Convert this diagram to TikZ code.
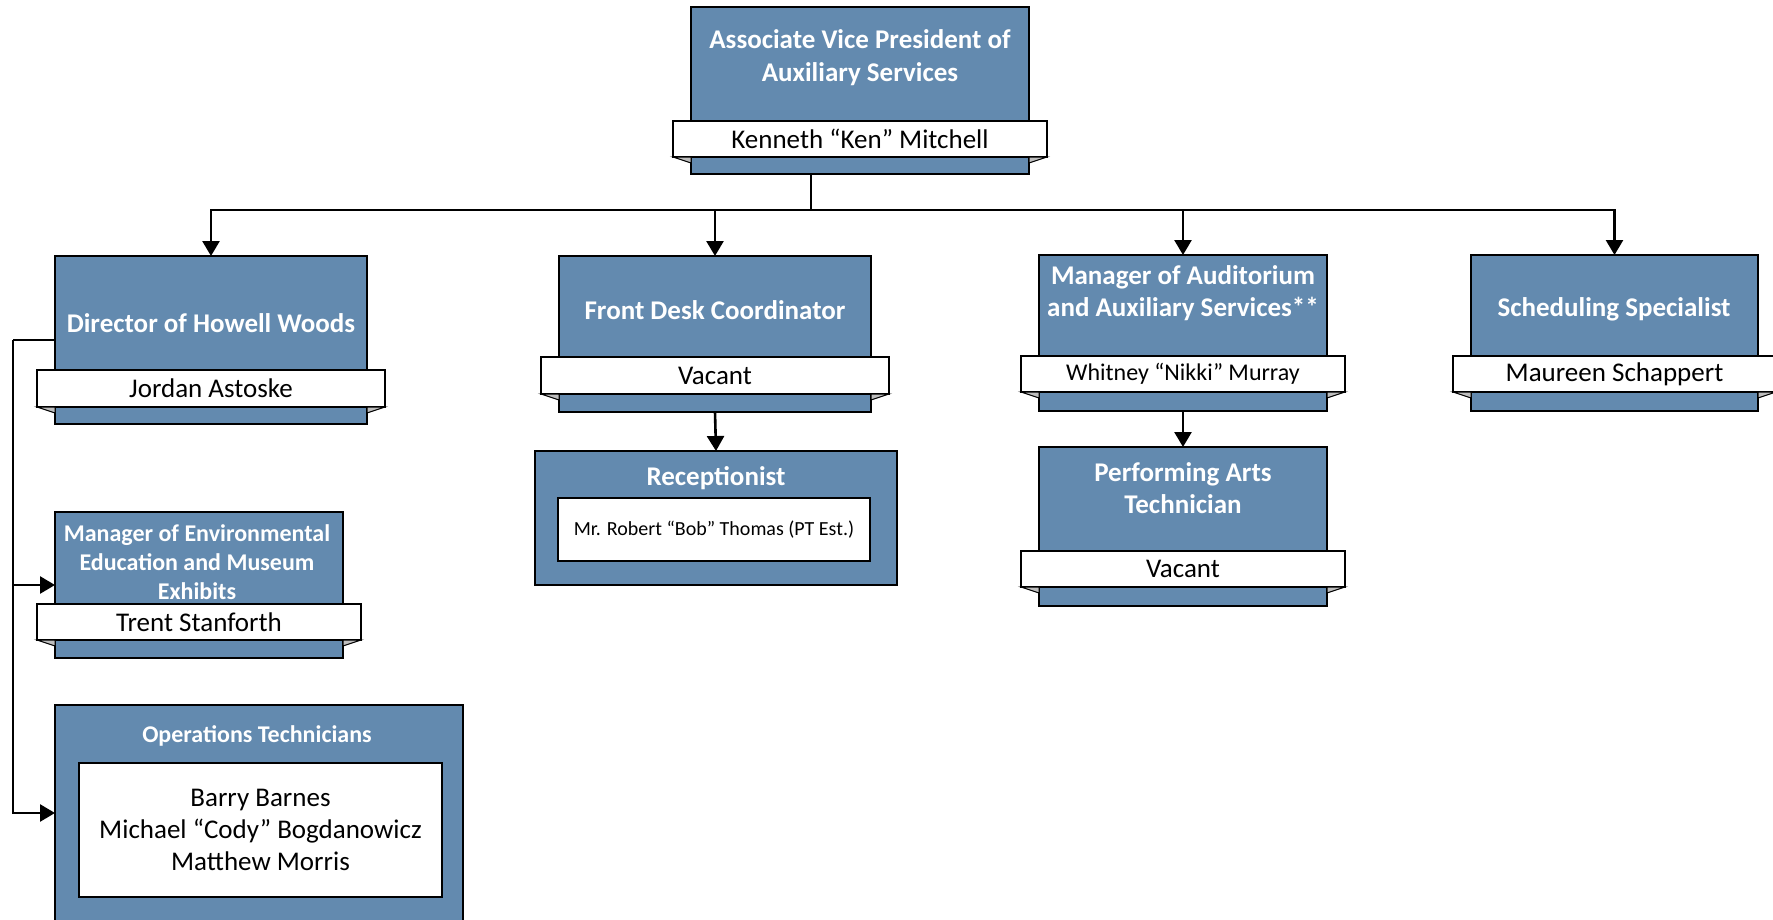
\documentclass[tikz,border=0pt]{standalone}
\usepackage{fontspec}
\setmainfont{Carlito}
\usetikzlibrary{arrows.meta}
\definecolor{boxblue}{RGB}{99,138,175}
\definecolor{foldgray}{RGB}{190,190,190}
\newcommand\fsz[2]{\fontsize{#1}{#2}\selectfont}
\newcommand\drawfolds[2]{%
  \draw[fold] (#1.south west) -- (#1.south west -| #2.west) -- ([yshift=-6pt]#1.south west -| #2.west) -- cycle;
  \draw[fold] (#1.south east) -- (#1.south east -| #2.east) -- ([yshift=-6pt]#1.south east -| #2.east) -- cycle;}
\tikzset{
  posbox/.style={draw=black, line width=1.8pt, fill=boxblue, inner sep=0pt, outer sep=0pt, anchor=north west},
  banner/.style={draw=black, line width=1.8pt, fill=white, inner sep=0pt, outer sep=0pt, anchor=north west, text=black, align=center},
  fold/.style={draw=black, line width=1pt, fill=foldgray, line join=miter},
  ttl/.style={text=white, align=center, inner sep=0pt},
  con/.style={draw=black, line width=2.6pt},
  arr/.style={draw=black, line width=2.6pt, -{Triangle[length=15pt,width=17pt]}},
}
\begin{document}
\begin{tikzpicture}[x=1pt,y=-1pt]
\useasboundingbox (0,0) rectangle (1773,919);
% top
\node[posbox, minimum width=338pt, minimum height=167pt] (avp) at (691,7) {};
\node[ttl, font=\bfseries\fsz{27}{33}] (avpt) at (860,58) {Associate Vice President of\\Auxiliary Services};
\node[banner, minimum width=374pt, minimum height=36pt, font=\fsz{27}{32}] (avpn) at (673,121) {Kenneth “Ken” Mitchell};
\drawfolds{avpn}{avp}
% director
\node[posbox, minimum width=312pt, minimum height=168pt] (dir) at (55,256) {};
\node[ttl, font=\bfseries\fsz{27}{32}] (dirt) at (211,323) {Director of Howell Woods};
\node[banner, minimum width=348pt, minimum height=37pt, font=\fsz{27}{32}] (dirn) at (37,370) {Jordan Astoske};
\drawfolds{dirn}{dir}
% environmental
\node[posbox, minimum width=288pt, minimum height=146pt] (env) at (55,512) {};
\node[ttl, font=\bfseries\fsz{24}{29}] (envt) at (197,562) {Manager of Environmental\\Education and Museum\\Exhibits};
\node[banner, minimum width=324pt, minimum height=36pt, font=\fsz{27}{32}] (envn) at (37,604) {Trent Stanforth};
\drawfolds{envn}{env}
% operations
\node[posbox, minimum width=408pt, minimum height=216pt] (ops) at (55,705) {};
\node[ttl, font=\bfseries\fsz{24}{28}] (opst) at (257,736) {Operations Technicians};
\node[banner, minimum width=363pt, minimum height=134pt, font=\fsz{27}{32}] (opsn) at (79,763) {Barry Barnes\\Michael “Cody” Bogdanowicz\\Matthew Morris};
% front desk
\node[posbox, minimum width=312pt, minimum height=156pt] (fd) at (559,256) {};
\node[ttl, font=\bfseries\fsz{27}{32}] (fdt) at (715,310) {Front Desk Coordinator};
\node[banner, minimum width=348pt, minimum height=37pt, font=\fsz{27}{32}] (fdn) at (541,357) {Vacant};
\drawfolds{fdn}{fd}
% receptionist
\node[posbox, minimum width=362pt, minimum height=134pt] (rec) at (535,451) {};
\node[ttl, font=\bfseries\fsz{27}{32}] (rect) at (716,478) {Receptionist};
\node[banner, minimum width=312pt, minimum height=63pt, font=\fsz{20}{24}] (recn) at (558,498) {Mr. Robert “Bob” Thomas (PT Est.)};
% manager auditorium
\node[posbox, minimum width=288pt, minimum height=156pt] (mgr) at (1039,255) {};
\node[ttl, font=\bfseries\fsz{27}{32}] (mgrt) at (1183,293) {Manager of Auditorium\\and Auxiliary Services**};
\node[banner, minimum width=324pt, minimum height=36pt, font=\fsz{24}{28}] (mgrn) at (1021,356) {Whitney “Nikki” Murray};
\drawfolds{mgrn}{mgr}
% performing arts
\node[posbox, minimum width=288pt, minimum height=159pt] (perf) at (1039,447) {};
\node[ttl, font=\bfseries\fsz{27}{32}] (perft) at (1183,488) {Performing Arts\\Technician};
\node[banner, minimum width=324pt, minimum height=36pt, font=\fsz{27}{32}] (perfn) at (1021,551) {Vacant};
\drawfolds{perfn}{perf}
% scheduling
\node[posbox, minimum width=287pt, minimum height=156pt] (sch) at (1471,255) {};
\node[ttl, font=\bfseries\fsz{27}{32}] (scht) at (1614,309) {Scheduling Specialist};
\node[banner, minimum width=323pt, minimum height=36pt, font=\fsz{27}{32}] (schn) at (1453,356) {Maureen Schappert};
\drawfolds{schn}{sch}
% connectors
\coordinate (hub) at (811,210);
\draw[con] (avp.south -| hub) -- (hub);
\draw[arr] (hub) -| (dir.north);
\draw[arr] (hub) -| (fd.north);
\draw[arr] (hub) -| (mgr.north);
\draw[arr] (hub) -| (sch.north);
\draw[arr] (fd.south) -- (rec.north);
\draw[arr] (mgr.south) -- (perf.north);
\coordinate (lft) at (13,340);
\draw[con] (dir.west) -- (lft);
\draw[arr] (lft) |- (env.west);
\draw[arr] (lft) |- (ops.west);
\end{tikzpicture}
\end{document}
